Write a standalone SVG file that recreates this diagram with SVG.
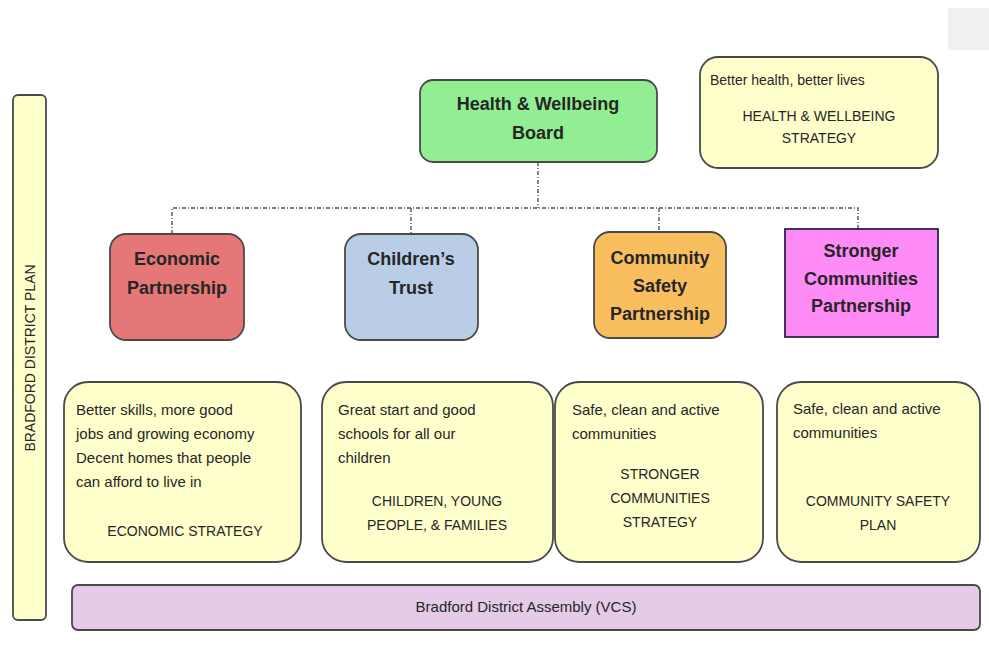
<svg xmlns="http://www.w3.org/2000/svg" width="989" height="646" viewBox="0 0 989 646">
<style>
.box{stroke:#4a4a4a;stroke-width:1.8}
.y{fill:#ffffcc}
.t{font-family:"Liberation Sans",Arial,sans-serif;fill:#262626}
.b{font-weight:bold;font-size:18px}
.s{font-size:15px}
.u{font-size:14px}
.c{text-anchor:middle}
.con{fill:none;stroke:#555;stroke-width:1.4;stroke-dasharray:4 2 1 2}
</style>
<rect x="0" y="0" width="989" height="646" fill="#ffffff"/>
<rect x="948" y="8" width="41" height="42" fill="#f0f0f0"/>

<g id="connectors">
<path class="con" d="M538 162 V208"/>
<path class="con" d="M172 234 V208 H858 V229"/>
<path class="con" d="M411 208 V234"/>
<path class="con" d="M659 208 V232"/>
</g>

<g id="district-plan">
<rect class="box y" x="13" y="95" width="33" height="525" rx="5"/>
<text class="t c" font-size="14" transform="translate(35 358) rotate(-90)">BRADFORD DISTRICT PLAN</text>
</g>

<g id="hwb">
<rect class="box" x="420" y="80" width="237" height="82" rx="13" fill="#92ee92"/>
<text class="t b c" x="538" y="110">Health &amp; Wellbeing</text>
<text class="t b c" x="538" y="139">Board</text>
</g>

<g id="hw-strategy">
<rect class="box y" x="700" y="57" width="238" height="111" rx="18"/>
<text class="t u" x="710" y="85">Better health, better lives</text>
<text class="t u c" x="819" y="121">HEALTH &amp; WELLBEING</text>
<text class="t u c" x="819" y="143">STRATEGY</text>
</g>

<g id="economic">
<rect class="box" x="110" y="234" width="134" height="106" rx="16" fill="#e57779"/>
<text class="t b c" x="177" y="265">Economic</text>
<text class="t b c" x="177" y="294">Partnership</text>
</g>

<g id="childrens">
<rect class="box" x="345" y="234" width="133" height="106" rx="16" fill="#b9cde6"/>
<text class="t b c" x="411" y="265">Children’s</text>
<text class="t b c" x="411" y="294">Trust</text>
</g>

<g id="community-safety">
<rect class="box" x="594" y="232" width="132" height="106" rx="16" fill="#f9bf5e"/>
<text class="t b c" x="660" y="264">Community</text>
<text class="t b c" x="660" y="292">Safety</text>
<text class="t b c" x="660" y="320">Partnership</text>
</g>

<g id="stronger">
<rect x="785" y="229" width="153" height="108" fill="#ff8cf6" stroke="#2a2450" stroke-width="1.8"/>
<text class="t b c" x="861" y="257" fill="#2a2450">Stronger</text>
<text class="t b c" x="861" y="285">Communities</text>
<text class="t b c" x="861" y="312">Partnership</text>
</g>

<g id="economic-strategy">
<rect class="box y" x="64" y="382" width="237" height="180" rx="24"/>
<text class="t s" x="76" y="415">Better skills, more good</text>
<text class="t s" x="76" y="439">jobs and growing economy</text>
<text class="t s" x="76" y="463">Decent homes that people</text>
<text class="t s" x="76" y="487">can afford to live in</text>
<text class="t u c" x="185" y="536">ECONOMIC STRATEGY</text>
</g>

<g id="children-strategy">
<rect class="box y" x="322" y="382" width="231" height="180" rx="24"/>
<text class="t s" x="338" y="415">Great start and good</text>
<text class="t s" x="338" y="439">schools for all our</text>
<text class="t s" x="338" y="463">children</text>
<text class="t u c" x="437" y="506">CHILDREN, YOUNG</text>
<text class="t u c" x="437" y="530">PEOPLE, &amp; FAMILIES</text>
</g>

<g id="stronger-strategy">
<rect class="box y" x="555" y="382" width="208" height="180" rx="24"/>
<text class="t s" x="572" y="415">Safe, clean and active</text>
<text class="t s" x="572" y="439">communities</text>
<text class="t u c" x="660" y="479">STRONGER</text>
<text class="t u c" x="660" y="503">COMMUNITIES</text>
<text class="t u c" x="660" y="527">STRATEGY</text>
</g>

<g id="safety-plan">
<rect class="box y" x="777" y="382" width="203" height="180" rx="24"/>
<text class="t s" x="793" y="414">Safe, clean and active</text>
<text class="t s" x="793" y="438">communities</text>
<text class="t u c" x="878" y="506">COMMUNITY SAFETY</text>
<text class="t u c" x="878" y="530">PLAN</text>
</g>

<g id="assembly">
<rect class="box" x="72" y="585" width="908" height="45" rx="6" fill="#e5cbe7"/>
<text class="t c" font-size="15" x="526" y="612">Bradford District Assembly (VCS)</text>
</g>
</svg>
